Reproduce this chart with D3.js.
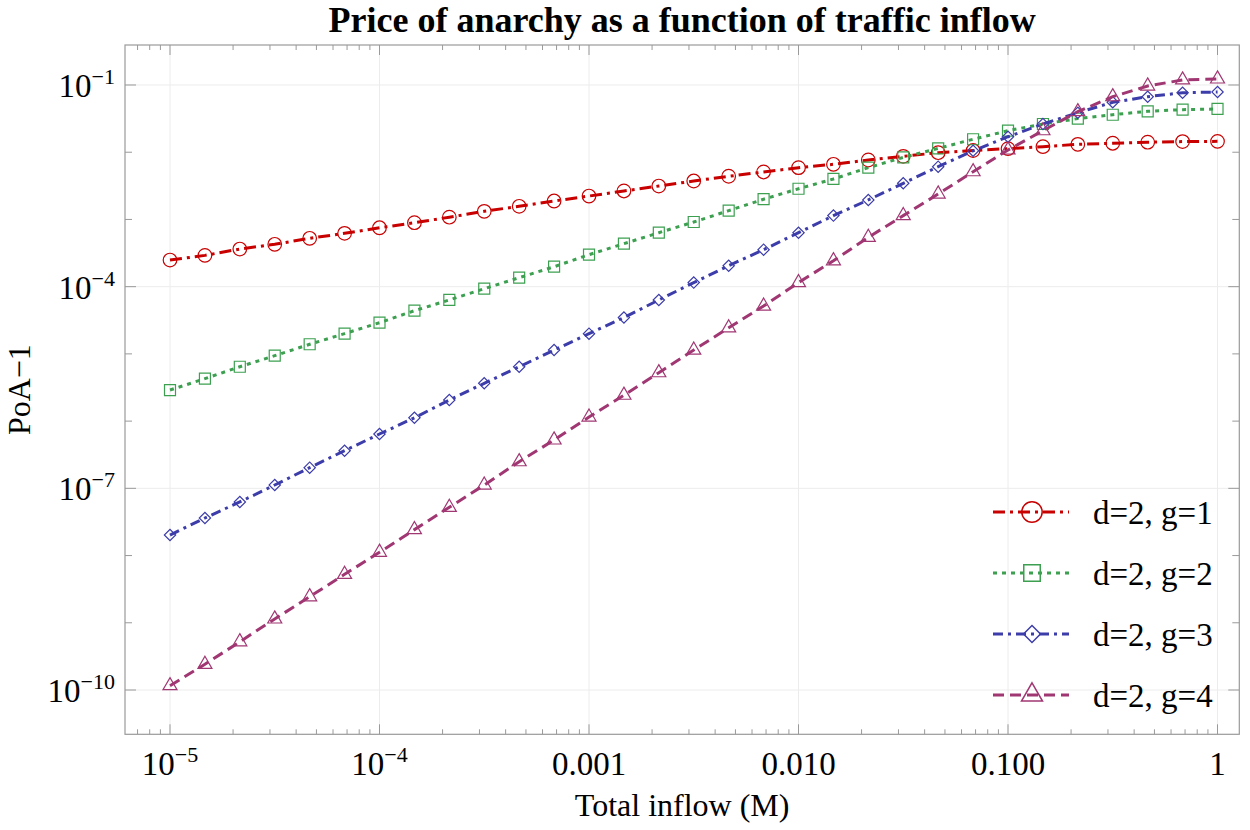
<!DOCTYPE html>
<html>
<head>
<meta charset="utf-8">
<script src="https://cdn.jsdelivr.net/npm/d3@7"></script>
<style>
	body { margin: 0; background: #ffffff; }
	text { font-family: "Liberation Serif", "Times New Roman", serif; fill: #000000; }
</style>
</head>
<body>
<svg id="chart" width="1250" height="830"></svg>
<script>

// total inflow M (6 points per decade)
var vInflow = [1e-5, 1.468e-5, 2.154e-5, 3.162e-5, 4.642e-5, 6.813e-5,
			   1e-4, 1.468e-4, 2.154e-4, 3.162e-4, 4.642e-4, 6.813e-4,
			   1e-3, 1.468e-3, 2.154e-3, 3.162e-3, 4.642e-3, 6.813e-3,
			   1e-2, 1.468e-2, 2.154e-2, 3.162e-2, 4.642e-2, 6.813e-2,
			   1e-1, 1.468e-1, 2.154e-1, 3.162e-1, 4.642e-1, 6.813e-1,
			   1];

// PoA-1
var vPoA_g1 = [2.49e-4, 2.92e-4, 3.63e-4, 4.27e-4, 5.24e-4, 6.21e-4,
			   7.52e-4, 8.95e-4, 1.08e-3, 1.32e-3, 1.57e-3, 1.88e-3,
			   2.23e-3, 2.65e-3, 3.14e-3, 3.73e-3, 4.39e-3, 5.08e-3,
			   5.89e-3, 6.61e-3, 7.66e-3, 8.69e-3, 9.84e-3, 1.06e-2,
			   1.13e-2, 1.21e-2, 1.31e-2, 1.36e-2, 1.41e-2, 1.44e-2,
			   1.45e-2];

var vPoA_g2 = [2.90e-6, 4.28e-6, 6.44e-6, 9.40e-6, 1.39e-5, 2.00e-5,
			   2.91e-5, 4.39e-5, 6.34e-5, 9.33e-5, 1.36e-4, 1.98e-4,
			   2.99e-4, 4.36e-4, 6.35e-4, 9.16e-4, 1.35e-3, 2.00e-3,
			   2.86e-3, 4.00e-3, 5.89e-3, 8.39e-3, 1.14e-2, 1.56e-2,
			   2.09e-2, 2.63e-2, 3.16e-2, 3.61e-2, 4.06e-2, 4.30e-2,
			   4.40e-2];

var vPoA_g3 = [2.02e-8, 3.62e-8, 6.27e-8, 1.12e-7, 2.03e-7, 3.63e-7,
			   6.43e-7, 1.12e-6, 2.06e-6, 3.65e-6, 6.44e-6, 1.14e-5,
			   2.00e-5, 3.48e-5, 6.34e-5, 1.15e-4, 2.05e-4, 3.55e-4,
			   6.35e-4, 1.14e-3, 1.95e-3, 3.45e-3, 6.10e-3, 1.05e-2,
			   1.70e-2, 2.63e-2, 3.87e-2, 5.53e-2, 6.70e-2, 7.67e-2,
			   7.87e-2];

var vPoA_g4 = [1.16e-10, 2.41e-10, 5.22e-10, 1.14e-9, 2.44e-9, 5.26e-9,
			   1.12e-8, 2.43e-8, 5.22e-8, 1.12e-7, 2.49e-7, 5.24e-7,
			   1.15e-6, 2.43e-6, 5.25e-6, 1.14e-5, 2.44e-5, 5.15e-5,
			   1.15e-4, 2.43e-4, 5.42e-4, 1.14e-3, 2.39e-3, 5.13e-3,
			   1.08e-2, 2.09e-2, 4.01e-2, 6.70e-2, 9.66e-2, 1.19e-1,
			   1.23e-1];

var vsSeriesName = ["d=2, g=1", "d=2, g=2", "d=2, g=3", "d=2, g=4"];

var vXTick = [1e-5, 1e-4, 1e-3, 1e-2, 1e-1, 1];
var vXTickLabel = [["10", "\u22125"], ["10", "\u22124"], ["0.001"], ["0.010"], ["0.100"], ["1"]];

var vYTick = [1e-1, 1e-4, 1e-7, 1e-10];
var vYTickLabel = [["10", "\u22121"], ["10", "\u22124"], ["10", "\u22127"], ["10", "\u221210"]];

// -----------------------------------------------------------------------

var g_nLeft = 125, g_nRight = 1239.3, g_nTop = 45, g_nBottom = 734.3;
var g_colorAxis = "#9a9a9a";
var g_colorGrid = "#ececec";

var vStyle = [
	{ color: "#c80000", dash: "12,5,3,5", shape: "circle" },
	{ color: "#3ca050", dash: "4,5",      shape: "square" },
	{ color: "#3c3caa", dash: "10,5,3,5", shape: "diamond" },
	{ color: "#a03773", dash: "11,6",     shape: "triangle" }
];

var g_domSVGMain = d3.select("#chart");

var xScale = d3.scaleLog()
				.domain([Math.pow(10, -5.2148), Math.pow(10, 0.104)])
				.range([g_nLeft, g_nRight]);

var yScale = d3.scaleLog()
				.domain([Math.pow(10, -10.659), Math.pow(10, -0.405)])
				.range([g_nBottom, g_nTop]);

function funcMarkerPath(sShape, nScale) {
	if (sShape == "circle")
		return d3.symbol().type(d3.symbolCircle).size(145 * nScale * nScale)();
	if (sShape == "square")
		return d3.symbol().type(d3.symbolSquare).size(121 * nScale * nScale)();
	if (sShape == "diamond")
		return d3.symbol().type(d3.symbolSquare).size(64 * nScale * nScale)();
	return d3.symbol().type(d3.symbolTriangle).size(85 * nScale * nScale)();
}

function funcMarkerTransform(sShape, nX, nY) {
	if (sShape == "diamond")
		return "translate(" + nX + "," + nY + ") rotate(45)";
	return "translate(" + nX + "," + nY + ")";
}

// grid ----------------------------------------------------------------------

g_domSVGMain.selectAll("line.xgrid")
	.data(vXTick)
	.enter()
	.append("line")
		.attr("class", "xgrid")
		.attr("x1", function(d) { return xScale(d); })
		.attr("x2", function(d) { return xScale(d); })
		.attr("y1", g_nTop)
		.attr("y2", g_nBottom)
		.attr("stroke", g_colorGrid)
		.attr("stroke-width", 1);

g_domSVGMain.selectAll("line.ygrid")
	.data(vYTick)
	.enter()
	.append("line")
		.attr("class", "ygrid")
		.attr("x1", g_nLeft)
		.attr("x2", g_nRight)
		.attr("y1", function(d) { return yScale(d); })
		.attr("y2", function(d) { return yScale(d); })
		.attr("stroke", g_colorGrid)
		.attr("stroke-width", 1);

// ticks ---------------------------------------------------------------------

var vXMinor = [];
var vXDomain = xScale.domain();
for (var e = -6; e <= 0; e++) {
	for (var m = 1; m <= 9; m++) {
		var v = m * Math.pow(10, e);
		if (v >= vXDomain[0] && v <= vXDomain[1]) vXMinor.push({ v: v, major: m == 1 });
	}
}

[g_nBottom, g_nTop].forEach(function(nY, i) {
	var nDir = (i == 0) ? -1 : 1;
	g_domSVGMain.append("g").selectAll("line")
		.data(vXMinor)
		.enter()
		.append("line")
			.attr("x1", function(d) { return xScale(d.v); })
			.attr("x2", function(d) { return xScale(d.v); })
			.attr("y1", nY)
			.attr("y2", function(d) { return nY + nDir * (d.major ? 10 : 5); })
			.attr("stroke", g_colorAxis)
			.attr("stroke-width", 1);
});

var vYMinor = [];
for (var e = -10; e <= -1; e++) {
	vYMinor.push({ v: Math.pow(10, e), major: ((-1 - e) % 3) == 0 });
}

[g_nLeft, g_nRight].forEach(function(nX, i) {
	var nDir = (i == 0) ? 1 : -1;
	g_domSVGMain.append("g").selectAll("line")
		.data(vYMinor)
		.enter()
		.append("line")
			.attr("x1", nX)
			.attr("x2", function(d) { return nX + nDir * (d.major ? 11 : 7); })
			.attr("y1", function(d) { return yScale(d.v); })
			.attr("y2", function(d) { return yScale(d.v); })
			.attr("stroke", g_colorAxis)
			.attr("stroke-width", 1);
});

// frame
g_domSVGMain.append("rect")
	.attr("x", g_nLeft)
	.attr("y", g_nTop)
	.attr("width", g_nRight - g_nLeft)
	.attr("height", g_nBottom - g_nTop)
	.attr("fill", "none")
	.attr("stroke", g_colorAxis)
	.attr("stroke-width", 1.2);

// tick labels ---------------------------------------------------------------

var domXLabel = g_domSVGMain.selectAll("text.xtick")
	.data(vXTick)
	.enter()
	.append("text")
		.attr("class", "xtick")
		.attr("x", function(d) { return xScale(d); })
		.attr("y", 775)
		.attr("font-size", "33px")
		.attr("text-anchor", "middle");

domXLabel.each(function(d, i) {
	var lbl = vXTickLabel[i];
	d3.select(this).append("tspan").text(lbl[0]);
	if (lbl.length > 1)
		d3.select(this).append("tspan").attr("dy", -13).attr("font-size", "22px").text(lbl[1]);
});

var domYLabel = g_domSVGMain.selectAll("text.ytick")
	.data(vYTick)
	.enter()
	.append("text")
		.attr("class", "ytick")
		.attr("x", 115)
		.attr("y", function(d) { return yScale(d) + 12; })
		.attr("font-size", "33px")
		.attr("text-anchor", "end");

domYLabel.each(function(d, i) {
	var lbl = vYTickLabel[i];
	d3.select(this).append("tspan").text(lbl[0]);
	d3.select(this).append("tspan").attr("dy", -13).attr("font-size", "22px").text(lbl[1]);
});

// titles --------------------------------------------------------------------

g_domSVGMain.append("text")
	.attr("x", (g_nLeft + g_nRight) / 2)
	.attr("y", 32)
	.attr("font-size", "36px")
	.attr("font-weight", "bold")
	.attr("text-anchor", "middle")
	.text("Price of anarchy as a function of traffic inflow");

g_domSVGMain.append("text")
	.attr("x", (g_nLeft + g_nRight) / 2)
	.attr("y", 816)
	.attr("font-size", "32px")
	.attr("text-anchor", "middle")
	.text("Total inflow (M)");

g_domSVGMain.append("text")
	.attr("transform", "translate(30," + ((g_nTop + g_nBottom) / 2) + ") rotate(-90)")
	.attr("font-size", "32px")
	.attr("text-anchor", "middle")
	.text("PoA\u22121");

// series --------------------------------------------------------------------

var vSeries = [vPoA_g1, vPoA_g2, vPoA_g3, vPoA_g4];

var line = d3.line()
	.x(function(d) { return xScale(d[0]); })
	.y(function(d) { return yScale(d[1]); });

vSeries.forEach(function(vValues, s) {
	var style = vStyle[s];
	var vPts = vInflow.map(function(x, i) { return [x, vValues[i]]; });

	g_domSVGMain.append("path")
		.datum(vPts)
		.attr("d", line)
		.attr("fill", "none")
		.attr("stroke", style.color)
		.attr("stroke-width", 3)
		.attr("stroke-dasharray", style.dash);

	g_domSVGMain.append("g").selectAll("path")
		.data(vPts)
		.enter()
		.append("path")
			.attr("d", funcMarkerPath(style.shape, 1))
			.attr("transform", function(d) { return funcMarkerTransform(style.shape, xScale(d[0]), yScale(d[1])); })
			.attr("fill", "none")
			.attr("stroke", style.color)
			.attr("stroke-width", 1.2);
});

// legend --------------------------------------------------------------------

var nLegendY0 = 512, nLegendStep = 61;

vsSeriesName.forEach(function(sName, s) {
	var style = vStyle[s];
	var nY = nLegendY0 + s * nLegendStep;

	g_domSVGMain.append("line")
		.attr("x1", 993)
		.attr("x2", 1069)
		.attr("y1", nY)
		.attr("y2", nY)
		.attr("stroke", style.color)
		.attr("stroke-width", 3)
		.attr("stroke-dasharray", style.dash);

	g_domSVGMain.append("path")
		.attr("d", funcMarkerPath(style.shape, 1.5))
		.attr("transform", funcMarkerTransform(style.shape, 1032, nY))
		.attr("fill", "none")
		.attr("stroke", style.color)
		.attr("stroke-width", 1.5);

	g_domSVGMain.append("text")
		.attr("x", 1093)
		.attr("y", nY + 12)
		.attr("font-size", "33px")
		.text(sName);
});

</script>
</body>
</html>
